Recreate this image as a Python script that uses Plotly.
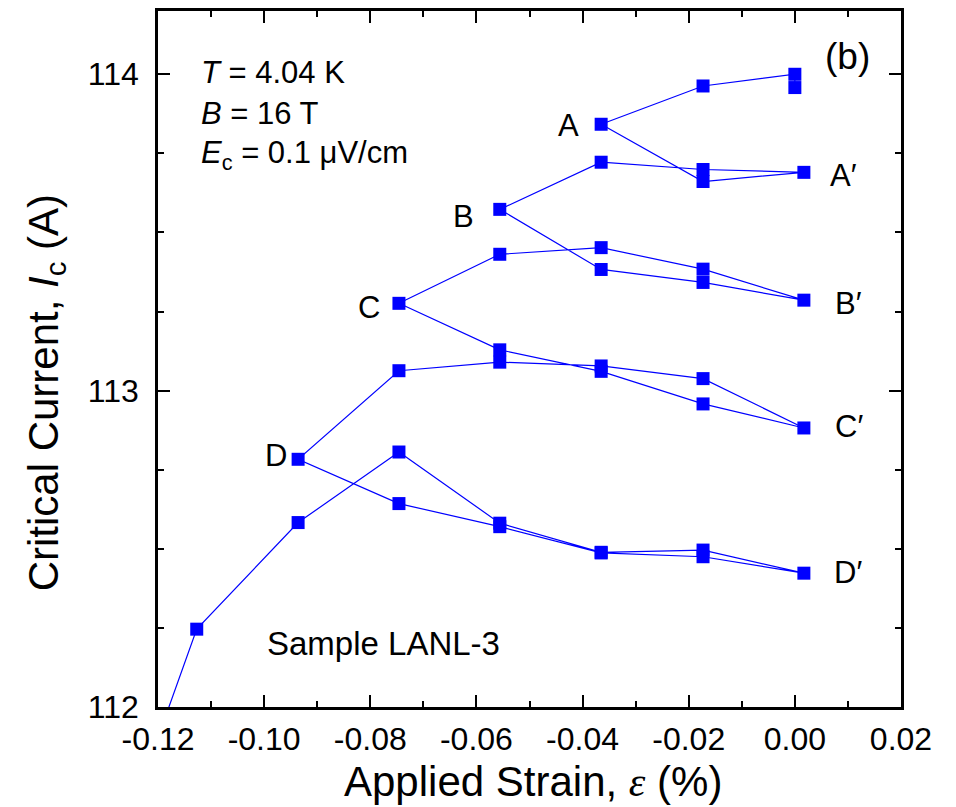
import plotly.graph_objects as go

# Measurement path (strain %, critical current A), in the order taken
strain = [-0.1318, -0.1127, -0.0936, -0.0746, -0.0556, -0.0365, -0.0173, 0.0017,
          -0.0173, -0.0365, -0.0556, -0.0746, -0.0936,
          -0.0746, -0.0556, -0.0365, -0.0173, 0.0017,
          -0.0173, -0.0365, -0.0556, -0.0746,
          -0.0556, -0.0365, -0.0173, 0.0017,
          -0.0173, -0.0365, -0.0556,
          -0.0365, -0.0173, 0.0017,
          -0.0173, -0.0365,
          -0.0173, 0.0000, 0.0000]
ic = [111.35, 112.246, 112.583, 112.806, 112.581, 112.489, 112.496, 112.423,
      112.475, 112.487, 112.570, 112.643, 112.783,
      113.063, 113.090, 113.078, 113.038, 112.882,
      112.958, 113.061, 113.129, 113.276,
      113.431, 113.452, 113.384, 113.286,
      113.342, 113.383, 113.573,
      113.722, 113.699, 113.690,
      113.661, 113.842,
      113.963, 114.000, 113.958]

x_ticks = [-0.12, -0.10, -0.08, -0.06, -0.04, -0.02, 0.00, 0.02]
x_ticktext = ["-0.12", "-0.10", "-0.08", "-0.06", "-0.04", "-0.02", "0.00", "0.02"]
y_ticks = [112, 113, 114]
y_ticktext = ["112", "113", "114"]

point_labels = ["A", "A′", "B", "B′", "C", "C′", "D", "D′"]
label_x = [-0.0426, 0.0062, -0.0625, 0.0072, -0.0802, 0.0072, -0.0978, 0.0070]
label_y = [113.838, 113.681, 113.552, 113.275, 113.262, 112.888, 112.796, 112.425]
label_anchor = ["center", "left", "center", "left", "center", "left", "center", "left"]

FONT = "Liberation Sans, Arial, sans-serif"
BLUE = "#0000FF"

fig = go.Figure()
fig.add_trace(go.Scatter(
    x=strain, y=ic, mode="lines+markers",
    line=dict(color=BLUE, width=1.2),
    marker=dict(symbol="square", size=13, color=BLUE, line=dict(width=0)),
    showlegend=False, cliponaxis=True,
))

axis_common = dict(
    showline=True, linewidth=2.5, linecolor="black", mirror="allticks",
    ticks="inside", ticklen=12, tickwidth=2, tickcolor="black",
    showgrid=False, zeroline=False,
    tickfont=dict(family=FONT, size=32, color="black"),
)

fig.update_xaxes(
    range=[-0.12, 0.02], tickmode="array", tickvals=x_ticks, ticktext=x_ticktext,
    minor=dict(tickmode="linear", tick0=-0.12, dtick=0.01, ticks="inside",
               ticklen=6, tickwidth=2, tickcolor="black"),
    ticklabelstandoff=2,
    **axis_common,
)
fig.update_yaxes(
    range=[112, 114.2], tickmode="array", tickvals=y_ticks, ticktext=y_ticktext,
    minor=dict(tickmode="linear", tick0=112, dtick=0.25, ticks="inside",
               ticklen=6, tickwidth=2, tickcolor="black"),
    ticklabelstandoff=10,
    **axis_common,
)

annotations = []
for t, xx, yy, anc in zip(point_labels, label_x, label_y, label_anchor):
    annotations.append(dict(x=xx, y=yy, xref="x", yref="y", text=t, showarrow=False,
                            xanchor=anc, yanchor="middle",
                            font=dict(family=FONT, size=31, color="black")))

def paper_x(px):
    return (px - 158) / 743.0

def paper_y(py):
    return (707 - py) / 699.0

info = [
    ("<i>T</i> = 4.04 K", 70),
    ("<i>B</i> = 16 T", 111),
    ("<i>E</i><sub>c</sub> = 0.1 μV/cm", 153),
]
for t, py in info:
    annotations.append(dict(x=paper_x(199), y=paper_y(py), xref="paper", yref="paper",
                            text=t, showarrow=False, xanchor="left", yanchor="middle",
                            font=dict(family=FONT, size=31, color="black")))

annotations.append(dict(x=paper_x(847), y=paper_y(54), xref="paper", yref="paper",
                        text="(b)", showarrow=False, xanchor="center", yanchor="middle",
                        font=dict(family=FONT, size=37, color="black")))
annotations.append(dict(x=paper_x(265), y=paper_y(643), xref="paper", yref="paper",
                        text="Sample LANL-3", showarrow=False, xanchor="left", yanchor="middle",
                        font=dict(family=FONT, size=33, color="black")))

# Axis titles
annotations.append(dict(x=paper_x(533), y=paper_y(782), xref="paper", yref="paper",
                        text="Applied Strain, <span style='font-family:Liberation Serif'><i>ε</i></span> (%)",
                        showarrow=False, xanchor="center", yanchor="middle",
                        font=dict(family=FONT, size=42, color="black")))
annotations.append(dict(x=paper_x(46), y=paper_y(392), xref="paper", yref="paper",
                        text="Critical Current, <i>I</i><sub>c</sub> (A)", textangle=-90,
                        showarrow=False, xanchor="center", yanchor="middle",
                        font=dict(family=FONT, size=42, color="black")))

fig.update_layout(
    width=956, height=807,
    margin=dict(l=158, r=55, t=8, b=100),
    paper_bgcolor="white", plot_bgcolor="white",
    annotations=annotations,
    font=dict(family=FONT),
)

fig.write_html("out.html")
